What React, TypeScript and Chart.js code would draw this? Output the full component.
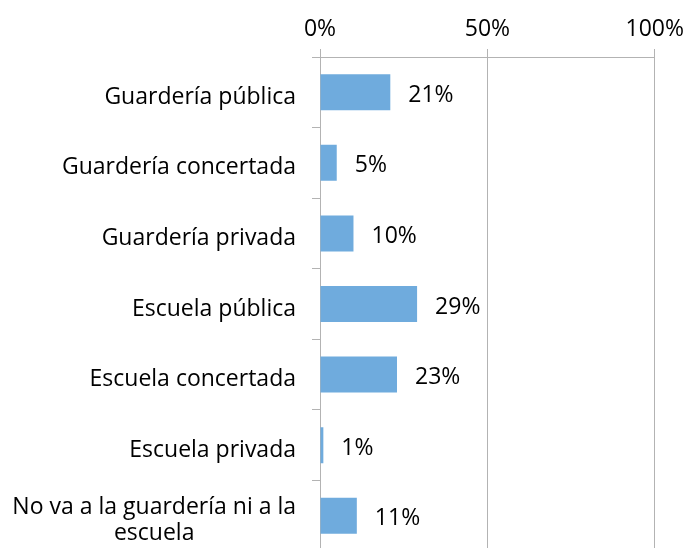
import React, { useEffect, useRef } from "react";
import { Chart, registerables } from "chart.js";

Chart.register(...registerables);

const categories: string[][] = [
  ["Guardería pública"],
  ["Guardería concertada"],
  ["Guardería privada"],
  ["Escuela pública"],
  ["Escuela concertada"],
  ["Escuela privada"],
  ["No va a la guardería ni a la", "escuela"],
];
const values: number[] = [0.21, 0.05, 0.1, 0.29, 0.23, 0.01, 0.11];
const valueLabels: string[] = ["21%", "5%", "10%", "29%", "23%", "1%", "11%"];
const xTicks: number[] = [0, 0.5, 1];

const FONT_FAMILY = "'Open Sans', Lato, sans-serif";
const FONT_SIZE = 23;
const AXIS_COLOR = "#b3b3b3";
const BAR_COLOR = "#6fabdd";

export default function App() {
  const ref = useRef<HTMLCanvasElement | null>(null);

  useEffect(() => {
    document.body.style.margin = "0";
    document.body.style.overflow = "hidden";
    document.documentElement.style.overflow = "hidden";
    const canvas = ref.current;
    if (!canvas) return;

    const dataLabelPlugin = {
      id: "dataLabels",
      afterDatasetsDraw(chart: any) {
        const ctx = chart.ctx;
        const meta = chart.getDatasetMeta(0);
        ctx.save();
        ctx.font = `${FONT_SIZE}px ${FONT_FAMILY}`;
        ctx.fillStyle = "#000";
        ctx.textAlign = "left";
        ctx.textBaseline = "middle";
        meta.data.forEach((bar: any, i: number) => {
          ctx.fillText(valueLabels[i], bar.x + 18, bar.y + 3);
        });
        ctx.restore();
      },
    };

    const yLabelPlugin = {
      id: "yLabels",
      afterDraw(chart: any) {
        const ctx = chart.ctx;
        const scale = chart.scales.y;
        const rightEdge = chart.chartArea.left - 24;
        const lineHeight = 26;
        ctx.save();
        ctx.font = `${FONT_SIZE}px ${FONT_FAMILY}`;
        ctx.fillStyle = "#000";
        ctx.textAlign = "center";
        ctx.textBaseline = "middle";
        categories.forEach((lines, i) => {
          const widest = Math.max(...lines.map((l) => ctx.measureText(l).width));
          const cx = rightEdge - widest / 2;
          const cy = scale.getPixelForValue(i) + 5;
          const startY = cy - ((lines.length - 1) * lineHeight) / 2;
          lines.forEach((l, j) => ctx.fillText(l, cx, startY + j * lineHeight));
        });
        ctx.restore();
      },
    };

    const chart = new Chart(canvas, {
      type: "bar",
      data: {
        labels: categories.map((c) => c.join(" ")),
        datasets: [
          {
            data: values,
            backgroundColor: BAR_COLOR,
            borderWidth: 0,
            categoryPercentage: 1,
            barPercentage: 0.51,
          },
        ],
      },
      options: {
        indexAxis: "y",
        animation: false,
        responsive: false,
        maintainAspectRatio: false,
        layout: { padding: { top: 0, right: 32, bottom: 0, left: 0 } },
        plugins: {
          legend: { display: false },
          tooltip: { enabled: false },
        },
        scales: {
          x: {
            position: "top",
            min: 0,
            max: 1,
            afterBuildTicks(scale: any) {
              scale.ticks = xTicks.map((v) => ({ value: v }));
            },
            afterFit(scale: any) {
              scale.height = 57;
            },
            ticks: {
              padding: 6,
              color: "#000",
              font: { family: FONT_FAMILY, size: FONT_SIZE },
              callback: (v: any) => `${Math.round(Number(v) * 100)}%`,
            },
            grid: {
              color: AXIS_COLOR,
              lineWidth: 1,
              tickLength: 8,
            },
            border: { color: AXIS_COLOR, width: 1 },
          },
          y: {
            position: "left",
            afterFit(scale: any) {
              scale.width = 320;
            },
            ticks: { display: false },
            grid: {
              color: AXIS_COLOR,
              drawOnChartArea: false,
              tickLength: 8,
              offset: true,
            },
            border: { color: AXIS_COLOR, width: 1 },
          },
        },
      },
      plugins: [dataLabelPlugin, yLabelPlugin],
    });

    return () => chart.destroy();
  }, []);

  return <canvas ref={ref} width={690} height={551} style={{ display: "block" }} />;
}
